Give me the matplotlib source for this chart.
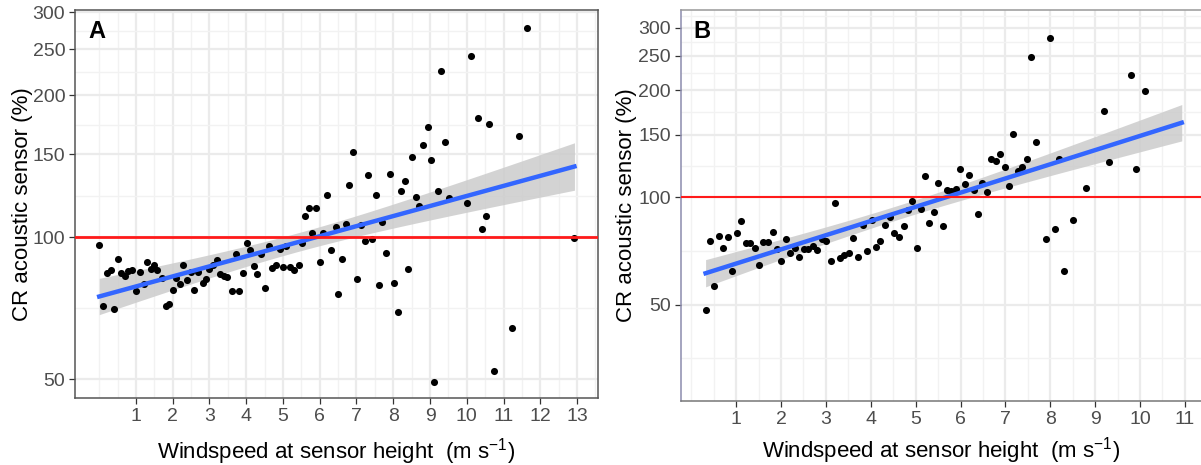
import numpy as np
import matplotlib.pyplot as plt
from matplotlib.ticker import FixedLocator, NullFormatter

plt.rcParams["font.family"] = ["Liberation Sans", "DejaVu Sans"]
plt.rcParams["mathtext.default"] = "regular"

# Panel A: windspeed at sensor height (m/s) vs catch ratio (%)
wind_a = [0.0, 0.1, 0.22, 0.31, 0.4, 0.5, 0.59, 0.69, 0.79, 0.89,
          1.01, 1.1, 1.21, 1.3, 1.4, 1.49, 1.58, 1.7, 1.81, 1.91,
          2.0, 2.1, 2.2, 2.29, 2.4, 2.49, 2.59, 2.7, 2.82, 2.9,
          3.0, 3.09, 3.2, 3.29, 3.4, 3.49, 3.61, 3.72, 3.81, 3.9,
          4.01, 4.11, 4.2, 4.3, 4.4, 4.51, 4.61, 4.71, 4.81, 4.91,
          5.0, 5.09, 5.2, 5.29, 5.43, 5.52, 5.61, 5.72, 5.8, 5.9,
          6.0, 6.09, 6.19, 6.32, 6.43, 6.51, 6.61, 6.72, 6.8, 6.91,
          7.01, 7.13, 7.22, 7.32, 7.42, 7.52, 7.61, 7.7, 7.8, 7.91,
          8.02, 8.13, 8.22, 8.32, 8.41, 8.51, 8.61, 8.71, 8.81, 8.94,
          9.03, 9.11, 9.22, 9.31, 9.41, 9.51, 10.02, 10.11, 10.31, 10.41,
          10.51, 10.6, 10.73, 11.22, 11.42, 11.64, 12.93]
cr_a = [96.3, 71.6, 84.0, 85.0, 70.3, 90.0, 84.0, 82.6, 84.6, 85.0,
        77.0, 84.4, 79.7, 88.4, 85.6, 87.4, 85.0, 81.9, 71.6, 72.3,
        77.4, 81.8, 79.7, 87.3, 81.1, 84.4, 77.4, 84.5, 80.1, 81.6,
        85.6, 87.4, 89.6, 83.7, 82.6, 82.3, 77.0, 92.1, 77.0, 84.0,
        97.0, 93.7, 87.0, 83.5, 92.1, 77.9, 95.7, 85.9, 87.4, 94.2,
        86.4, 95.7, 86.4, 85.0, 87.3, 97.0, 110.6, 115.1, 102.0, 115.1,
        88.4, 102.0, 122.6, 93.7, 105.0, 75.7, 90.0, 106.7, 129.1, 151.6,
        81.6, 106.2, 97.9, 135.2, 99.2, 122.6, 79.2, 107.4, 92.5, 136.0,
        80.1, 69.4, 125.4, 131.3, 85.5, 147.5, 121.8, 116.3, 157.0, 171.0,
        145.6, 49.4, 125.4, 225.0, 159.0, 121.2, 118.0, 242.0, 179.0, 103.8,
        110.6, 174.0, 52.1, 64.1, 163.6, 277.6, 99.8]
fit_end_a = 12.93

# Panel B
wind_b = [0.32, 0.41, 0.51, 0.62, 0.71, 0.81, 0.91, 1.01, 1.11, 1.21,
          1.32, 1.41, 1.51, 1.61, 1.71, 1.82, 1.91, 2.01, 2.11, 2.21,
          2.31, 2.41, 2.51, 2.61, 2.71, 2.81, 2.91, 3.01, 3.12, 3.21,
          3.31, 3.41, 3.52, 3.61, 3.72, 3.82, 3.91, 4.02, 4.12, 4.21,
          4.32, 4.42, 4.52, 4.62, 4.73, 4.82, 4.92, 5.02, 5.12, 5.2,
          5.3, 5.4, 5.5, 5.6, 5.7, 5.79, 5.89, 5.99, 6.09, 6.19,
          6.29, 6.39, 6.49, 6.59, 6.69, 6.79, 6.89, 6.99, 7.08, 7.18,
          7.28, 7.38, 7.48, 7.58, 7.68, 7.9, 7.99, 8.11, 8.2, 8.31,
          8.5, 8.8, 9.19, 9.3, 9.81, 9.9, 10.1]
cr_b = [48.4, 75.5, 56.3, 77.8, 72.3, 77.5, 62.2, 79.5, 86.0, 74.7,
        74.6, 72.3, 64.5, 75.0, 75.0, 79.7, 71.4, 66.1, 76.5, 69.6,
        71.9, 68.0, 71.4, 71.7, 73.0, 71.1, 76.5, 75.2, 66.4, 96.6,
        67.7, 68.8, 69.9, 76.8, 68.0, 83.8, 70.8, 86.4, 72.5, 75.2,
        83.8, 88.2, 79.5, 77.2, 82.9, 92.1, 97.9, 72.3, 92.5, 114.8,
        84.9, 91.1, 110.0, 83.1, 104.9, 104.4, 105.3, 120.4, 108.8, 115.3,
        105.1, 89.8, 110.0, 103.5, 128.5, 126.8, 132.4, 121.5, 107.6, 151.1,
        118.4, 121.5, 127.9, 247.7, 143.1, 76.5, 280.7, 81.6, 128.5, 62.0,
        86.5, 106.5, 174.6, 126.0, 220.0, 119.9, 199.0]
fit_end_b = 10.93

y_breaks = [50, 100, 150, 200, 250, 300]
y_labels = ["50", "100", "150", "200", "250", "300"]
xlabel = r"Windspeed at sensor height  (m s$^{-1}$)"
ylabel = "CR acoustic sensor (%)"


def lm_log(x, y, xs, t=1.98):
    # linear fit of log10(y) on x with a 95% confidence ribbon
    lx = np.asarray(x, float)
    ly = np.log10(np.asarray(y, float))
    b, a = np.polyfit(lx, ly, 1)
    n = len(lx)
    s = np.sqrt(np.sum((ly - (a + b * lx)) ** 2) / (n - 2))
    sxx = np.sum((lx - lx.mean()) ** 2)
    fit = a + b * xs
    se = s * np.sqrt(1 / n + (xs - lx.mean()) ** 2 / sxx)
    return 10 ** fit, 10 ** (fit - t * se), 10 ** (fit + t * se)


def panel(ax, x, y, fit_end, xticks, xlim, ylim, tag, spine_cols, red_lw,
          minor_y, xpad, ypad):
    ax.set_yscale("log")
    xs = np.linspace(min(x), fit_end, 200)
    fit, lo, hi = lm_log(x, y, xs)
    ax.fill_between(xs, lo, hi, color="#cccccc", alpha=0.85, lw=0, zorder=2)
    ax.scatter(x, y, s=26, color="black", lw=0, zorder=3)
    ax.plot(xs, fit, color="#3366ff", lw=3.2, zorder=4)
    ax.axhline(100, color="#ff1a1a", lw=red_lw, zorder=5)

    ax.set_xlim(*xlim)
    ax.set_ylim(*ylim)
    ax.xaxis.set_major_locator(FixedLocator(xticks))
    ax.set_xticklabels([str(v) for v in xticks])
    ax.xaxis.set_minor_locator(FixedLocator(
        [v / 2 for v in range(0, 2 * int(xlim[1]) + 2) if v % 2 or v == 0]))
    ax.yaxis.set_major_locator(FixedLocator(y_breaks))
    ax.set_yticklabels(y_labels)
    ax.yaxis.set_minor_locator(FixedLocator(minor_y))
    ax.yaxis.set_minor_formatter(NullFormatter())
    ax.xaxis.set_minor_formatter(NullFormatter())

    ax.grid(which="major", color="#ebebeb", lw=1.6, zorder=0)
    ax.grid(which="minor", color="#f2f2f2", lw=1.0, zorder=0)
    ax.set_axisbelow(True)
    ax.tick_params(which="major", length=4, width=0.9, color="#333333",
                   labelsize=14, labelcolor="#4d4d4d", pad=3)
    ax.tick_params(which="minor", length=0)

    ax.set_xlabel(xlabel, fontsize=16, labelpad=xpad)
    ax.set_ylabel(ylabel, fontsize=16, labelpad=ypad)
    ax.text(0.025, 0.975, tag, transform=ax.transAxes, fontsize=17,
            fontweight="bold", ha="left", va="top")
    for side, col in spine_cols.items():
        if col is None:
            ax.spines[side].set_visible(False)
        else:
            ax.spines[side].set_color(col)
            ax.spines[side].set_linewidth(1.1)


def geo_mid(breaks):
    return [np.sqrt(a * b) for a, b in zip(breaks[:-1], breaks[1:])]


fig = plt.figure(figsize=(12.01, 4.65), dpi=100)
ax_a = fig.add_axes([0.0624, 0.1441, 0.4355, 0.8344])
ax_b = fig.add_axes([0.5668, 0.1376, 0.4340, 0.8409])

panel(ax_a, wind_a, cr_a, fit_end_a, list(range(1, 14)), (-0.66, 13.57),
      (45.6, 303), "A",
      {"left": "#555555", "right": "#555555", "top": "#555555",
       "bottom": "#555555"}, 2.0, geo_mid([25] + y_breaks), 8, 0)
panel(ax_b, wind_b, cr_b, fit_end_b, list(range(1, 12)), (-0.234, 11.38),
      (26.8, 336), "B",
      {"left": "#8c8cad", "right": None, "top": "#999999",
       "bottom": "#777777"}, 1.5, geo_mid([25] + y_breaks + [350]), 5, 1)

fig.savefig("out.png", dpi=100)
